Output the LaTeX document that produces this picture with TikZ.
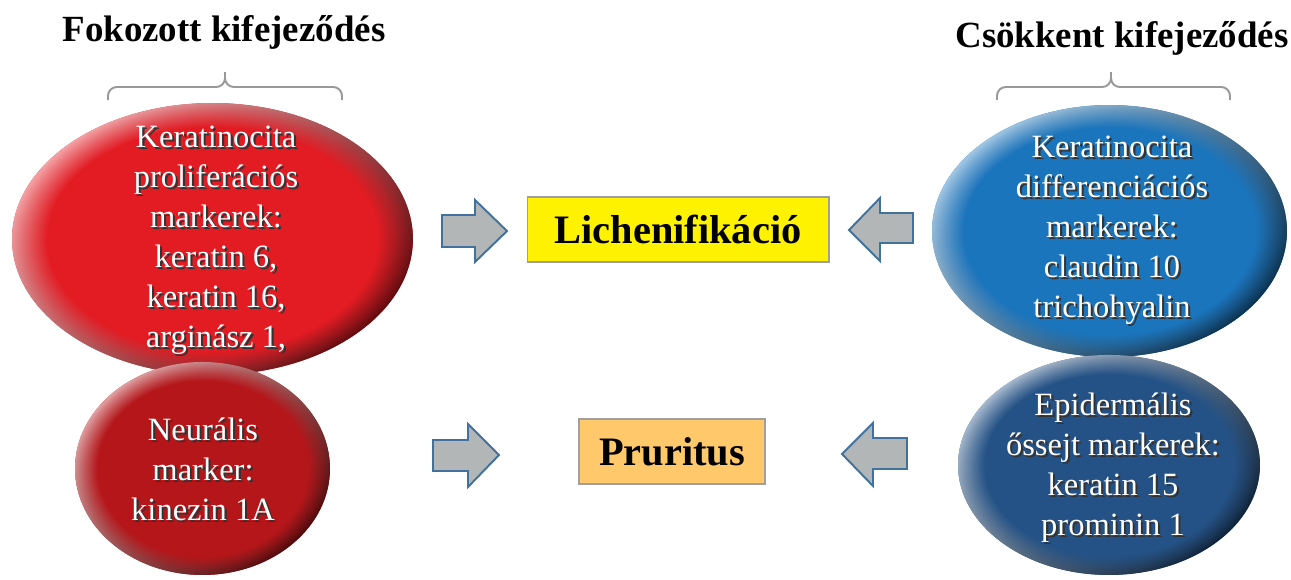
\documentclass[tikz,border=0pt]{standalone}
\usepackage{fontspec}
\setmainfont{Liberation Serif}
\usetikzlibrary{shapes.geometric,fadings}

\definecolor{redbig}{HTML}{E31B23}
\definecolor{redsmall}{HTML}{B5161A}
\definecolor{bluebig}{HTML}{1B75BC}
\definecolor{bluesmall}{HTML}{245286}
\definecolor{yellowbox}{HTML}{FFF200}
\definecolor{orangebox}{HTML}{FFC96B}
\definecolor{arrowgray}{HTML}{B3B6B7}
\definecolor{arrowedge}{HTML}{41719C}
\definecolor{bracegray}{HTML}{999999}

\pgfdeclareradialshading{rimshade}{\pgfpointorigin}{color(0bp)=(pgftransparent!100); color(20.5bp)=(pgftransparent!100); color(25bp)=(pgftransparent!0); color(50bp)=(pgftransparent!0)}
\pgfdeclarefading{rimfade}{\pgfuseshading{rimshade}}

% white text with a small dark shadow
\newcommand{\shd}[1]{\rlap{\hspace{1.2pt}\raisebox{-1.2pt}{\color{black!80}#1}}#1}

\tikzset{
  egg/.style={ellipse, inner sep=0pt, fill=#1,
    postaction={shade, top color=#1!40!white, middle color=#1, bottom color=#1!40!black,
      shading angle=45, path fading=rimfade}},
  eggtext/.style={text=white, align=center, font=\fontsize{18.5}{22.8}\selectfont},
  outcome/.style={draw=gray!75, line width=0.6pt, inner sep=0pt,
    font=\bfseries\fontsize{23}{26}\selectfont},
  heading/.style={font=\bfseries\fontsize{21}{24}\selectfont},
  blockarrow/.style={fill=arrowgray, draw=arrowedge, line width=1.1pt, line join=miter},
  bracket/.style={draw=bracegray, line width=1.1pt, rounded corners=5pt}
}

\begin{document}
\begin{tikzpicture}[x=0.02cm,y=-0.02cm]
\useasboundingbox (0,0) rectangle (1291,579);

% headings and braces
\node[heading] (up) at (224,32) {Fokozott kifejeződés};
\node[heading] (down) at (1122,38) {Csökkent kifejeződés};
\coordinate (uptip) at (225,72);
\coordinate (downtip) at (1111,72);
\draw[bracket] (108,100) -- (108,87) -- (225,87) -- (uptip);
\draw[bracket] (342,100) -- (342,87) -- (225,87) -- (uptip);
\draw[bracket] (997,100) -- (997,87) -- (1111,87) -- (downtip);
\draw[bracket] (1230,100) -- (1230,87) -- (1111,87) -- (downtip);

% left side
\node[egg=redbig, minimum width=8.02cm, minimum height=5.44cm] (prolif) at (212.5,239) {};
\node[egg=redsmall, minimum width=5.1cm, minimum height=4.26cm] (neur) at (202.5,468.5) {};
\node[eggtext] (prolift) at (216,241) {\shd{Keratinocita}\\ \shd{proliferációs}\\ \shd{markerek:}\\ \shd{keratin 6,}\\ \shd{keratin 16,}\\ \shd{arginász 1,}};
\node[eggtext] (neurt) at (203,470) {\shd{Neurális}\\ \shd{marker:}\\ \shd{kinezin 1A}};

% right side
\node[egg=bluebig, minimum width=7.1cm, minimum height=5.04cm] (diff) at (1109.5,231) {};
\node[egg=bluesmall, minimum width=6.04cm, minimum height=4.4cm] (stem) at (1109,465) {};
\node[eggtext] (difft) at (1112,231) {\shd{Keratinocita}\\ \shd{differenciációs}\\ \shd{markerek:}\\ \shd{claudin 10}\\ \shd{trichohyalin}};
\node[eggtext] (stemt) at (1113,469) {\shd{Epidermális}\\ \shd{őssejt markerek:}\\ \shd{keratin 15}\\ \shd{prominin 1}};

% outcomes
\node[outcome, fill=yellowbox, minimum width=6.04cm, minimum height=1.3cm] (lich) at (678,229.5) {Lichenifikáció};
\node[outcome, fill=orangebox, minimum width=3.72cm, minimum height=1.3cm] (prur) at (672,451.5) {Pruritus};

% block arrows
\draw[blockarrow] (442,215) -- (475,215) -- (475,200) -- (507,231) -- (475,262) -- (475,247) -- (442,247) -- cycle;
\draw[blockarrow] (913,213) -- (880,213) -- (880,198) -- (849,230) -- (880,261) -- (880,243) -- (913,243) -- cycle;
\draw[blockarrow] (433,440) -- (468,440) -- (468,424) -- (499,455) -- (468,487) -- (468,471) -- (433,471) -- cycle;
\draw[blockarrow] (907,438) -- (873,438) -- (873,423) -- (842,454) -- (873,486) -- (873,469) -- (907,469) -- cycle;
\end{tikzpicture}
\end{document}
